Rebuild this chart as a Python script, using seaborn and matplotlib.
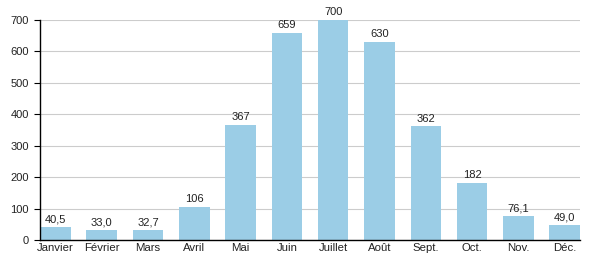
import matplotlib
matplotlib.use("Agg")
import matplotlib.pyplot as plt
import seaborn as sns
import pandas as pd

months = ["Janvier", "Février", "Mars", "Avril", "Mai", "Juin", "Juillet",
          "Août", "Sept.", "Oct.", "Nov.", "Déc."]
values = [40.5, 33.0, 32.7, 106, 367, 659, 700, 630, 362, 182, 76.1, 49.0]
labels = ["40,5", "33,0", "32,7", "106", "367", "659", "700", "630", "362",
          "182", "76,1", "49,0"]
yticks = [0, 100, 200, 300, 400, 500, 600, 700]

sns.set_style("white")
plt.rcParams["font.family"] = ["Liberation Sans", "DejaVu Sans"]

df = pd.DataFrame({"month": months, "value": values})

fig = plt.figure(figsize=(6, 2.8), dpi=100)
ax = fig.add_axes([0.0667, 0.143, 0.9, 0.786])
sns.barplot(data=df, x="month", y="value", color="#9BCDE6", saturation=1,
            width=0.66, linewidth=0, ax=ax, zorder=2)
for p, lab in zip(ax.patches, labels):
    ax.text(p.get_x() + p.get_width() / 2, p.get_height() + 8, lab,
            ha="center", va="bottom", fontsize=8, color="#222222")

ax.set_ylim(0, 700)
ax.set_xlim(-0.33, 11.33)
ax.set_yticks(yticks)
ax.set_yticklabels([str(t) for t in yticks], fontsize=8, color="#222222")
ax.tick_params(axis="x", labelsize=8.2, colors="#222222", length=0, pad=2)
ax.tick_params(axis="y", length=4, width=0.8, color="black", pad=4, left=True)
ax.yaxis.grid(True, color="#CCCCCC", linewidth=0.8, zorder=0)
ax.set_axisbelow(True)
for s in ["top", "right"]:
    ax.spines[s].set_visible(False)
for s in ["left", "bottom"]:
    ax.spines[s].set_color("black")
    ax.spines[s].set_linewidth(1.0)
ax.set_xlabel("")
ax.set_ylabel("")
fig.savefig("out.png", dpi=100)
